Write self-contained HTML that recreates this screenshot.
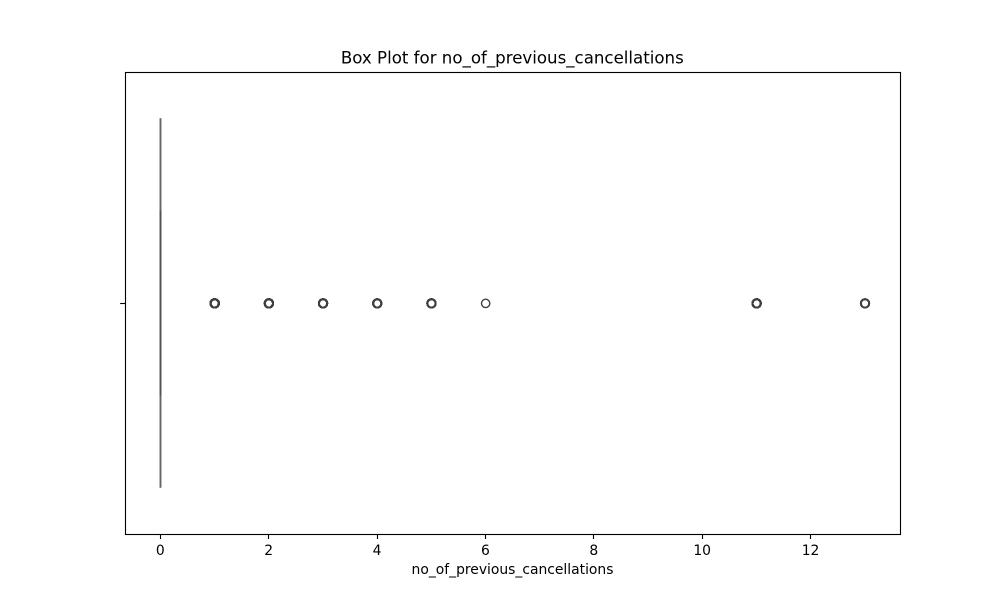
<!DOCTYPE html>
<html>
<head>
<meta charset="utf-8">
<title>Box Plot for no_of_previous_cancellations</title>
<style>
html,body{margin:0;padding:0;background:#fff;}
svg{display:block;}
text{font-family:"DejaVu Sans",sans-serif;fill:#000;}
</style>
</head>
<body>
<svg id="chart" width="1000" height="600" viewBox="0 0 1000 600" xmlns="http://www.w3.org/2000/svg">
<rect x="0" y="0" width="1000" height="600" fill="#fff"/>
<text x="512.3" y="63.5" font-size="16.64" text-anchor="middle">Box Plot for no_of_previous_cancellations</text>
<text x="512.5" y="574" font-size="13.89" text-anchor="middle">no_of_previous_cancellations</text>
<g id="marks"></g>
<g id="axes"></g>
</svg>
<script>
const xTicks = [0, 2, 4, 6, 8, 10, 12];
const boxStats = [0, 0, 0];
const whiskerValues = [0, 0];
const flierValues = [1, 2, 3, 4, 5, 6, 11, 13];
const flierCounts = [198, 46, 20, 10, 11, 1, 25, 4];
const xDomain = [-0.65, 13.65];

const NS = 'http://www.w3.org/2000/svg';
const plot = {left: 125, right: 900, top: 72, bottom: 534};
const centerY = (plot.top + plot.bottom) / 2;
const boxHalf = (plot.bottom - plot.top) * 0.4;
const capHalf = boxHalf / 2;
const ink = '#3f3f3f';
const lineAlpha = 0.55;
const lineWidth = 1.9;
const marks = document.getElementById('marks');
const axes = document.getElementById('axes');

function xScale(v) {
  return plot.left + (v - xDomain[0]) / (xDomain[1] - xDomain[0]) * (plot.right - plot.left);
}
function snap(p) {
  return Math.floor(p) + 0.5;
}
function make(tag, attrs, parent) {
  const el = document.createElementNS(NS, tag);
  for (const k in attrs) el.setAttribute(k, attrs[k]);
  parent.appendChild(el);
  return el;
}

const boxEdge = make('line', {
  x1: snap(xScale(boxStats[0])), x2: snap(xScale(boxStats[2])),
  y1: centerY - boxHalf, y2: centerY + boxHalf,
  stroke: ink, 'stroke-width': lineWidth, 'stroke-opacity': lineAlpha
}, marks);



whiskerValues.slice(0, 1).forEach(function (v) {
  const cap = make('line', {
    x1: snap(xScale(v)), x2: snap(xScale(v)),
    y1: centerY - capHalf, y2: centerY + capHalf,
    stroke: ink, 'stroke-width': lineWidth, 'stroke-opacity': lineAlpha
  }, marks);
  
  
});

const median = make('line', {
  x1: snap(xScale(boxStats[1])), x2: snap(xScale(boxStats[1])),
  y1: centerY - boxHalf, y2: centerY + boxHalf,
  stroke: ink, 'stroke-width': lineWidth, 'stroke-opacity': lineAlpha
}, marks);



flierValues.forEach(function (v, i) {
  for (let n = 0; n < flierCounts[i]; n++) {
    const dot = make('circle', {
      cx: xScale(v) + 0.25, cy: centerY + 0.4, r: 4.17,
      fill: 'none', stroke: ink, 'stroke-width': flierCounts[i] > 1 ? 1.85 : 1.39
    }, marks);
    
    
  }
});

xTicks.forEach(function (t) {
  const tick = make('line', {
    x1: snap(xScale(t)), x2: snap(xScale(t)),
    y1: plot.bottom, y2: plot.bottom + 5,
    stroke: '#000', 'stroke-width': 1.11
  }, axes);
  
  
  const label = make('text', {
    x: xScale(t), y: 555, 'font-size': 13.89, 'text-anchor': 'middle'
  }, axes);
  label.textContent = String(t);
  
  
});

const yTick = make('line', {
  x1: plot.left - 4.86, x2: plot.left, y1: snap(centerY), y2: snap(centerY),
  stroke: '#000', 'stroke-width': 1.11
}, axes);



const frame = make('rect', {
  x: plot.left + 0.5, y: plot.top + 0.5,
  width: plot.right - plot.left, height: plot.bottom - plot.top,
  fill: 'none', stroke: '#000', 'stroke-width': 1.11
}, axes);


</script>
</body>
</html>
